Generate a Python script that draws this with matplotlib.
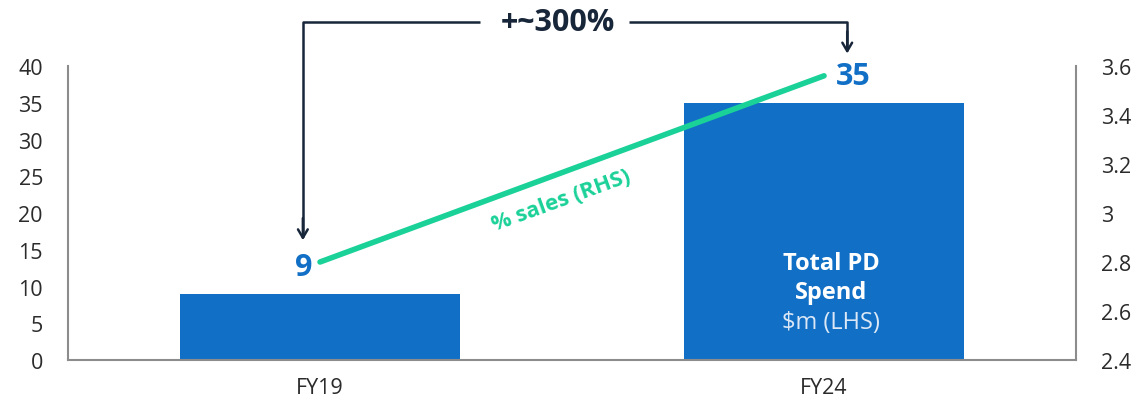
import matplotlib
matplotlib.use("Agg")
import matplotlib.pyplot as plt

plt.rcParams['font.family'] = ['Open Sans', 'DejaVu Sans']

# Data
categories = ["FY19", "FY24"]
pd_spend = [9, 35]            # Total PD spend, $m (LHS)
pct_sales = [2.8, 3.56]       # % of sales (RHS)
growth_label = "+~300%"

left_ticks = [0, 5, 10, 15, 20, 25, 30, 35, 40]
right_ticks = [2.4, 2.6, 2.8, 3.0, 3.2, 3.4, 3.6]
right_ticklabels = ["2.4", "2.6", "2.8", "3", "3.2", "3.4", "3.6"]

BAR = "#116fc6"
GREEN = "#1ad198"
NAVY = "#18263a"
SPINE = "#8c8c8c"
TICK = "#2b2b2b"

fig = plt.figure(figsize=(11.37, 4.02), dpi=100)
ax = fig.add_axes([0.0598, 0.102, 0.8866, 0.7313])
x = list(range(len(categories)))

ax.bar(x, pd_spend, width=0.556, color=BAR, zorder=2)
ax.set_xlim(-0.5, 1.5)
ax.set_ylim(0, 40)
ax.set_yticks(left_ticks)
ax.set_xticks(x)
ax.set_xticklabels(categories)
ax.tick_params(axis='both', length=0, labelsize=15.5, colors=TICK)
ax.tick_params(axis='y', pad=18)
ax.tick_params(axis='x', pad=12)
for s in ("top", "right"):
    ax.spines[s].set_visible(False)
for s in ("left", "bottom"):
    ax.spines[s].set_color(SPINE)
    ax.spines[s].set_linewidth(1.5)

ax2 = ax.twinx()
ax2.set_ylim(2.4, 3.6)
ax2.set_yticks(right_ticks)
ax2.set_yticklabels(right_ticklabels)
ax2.tick_params(axis='y', length=0, labelsize=15.5, colors=TICK, pad=18)
for s in ("top", "left", "bottom"):
    ax2.spines[s].set_visible(False)
ax2.spines["right"].set_color(SPINE)
ax2.spines["right"].set_linewidth(1.5)

ax2.plot(x, pct_sales, color=GREEN, lw=4.0, solid_capstyle="round", zorder=3)

# Series label set just below the line
t = 0.478
x_lab = x[0] + t * (x[1] - x[0])
y_lab = pct_sales[0] + t * (pct_sales[1] - pct_sales[0]) - 0.11
ax2.text(x_lab, y_lab, "% sales (RHS)", color=GREEN, fontsize=16,
         fontweight="bold", rotation=20, ha="center", va="center",
         rotation_mode="anchor")

# Value labels above the bars
offsets = [(-12, 19), (21, 19.5)]
for xi, v, off in zip(x, pd_spend, offsets):
    ax.annotate(str(v), xy=(xi, v), xytext=off, textcoords="offset points",
                ha="center", va="center", fontsize=22, fontweight="bold",
                color=BAR, zorder=4)

# Label inside the FY24 bar
for txt, dy, weight, col in [("Total PD", 70, "bold", "white"),
                             ("Spend", 49, "bold", "white"),
                             ("$m (LHS)", 27, "normal", "#dce8f6")]:
    ax.annotate(txt, xy=(x[1], 0), xytext=(5, dy),
                textcoords="offset points", ha="center", va="center",
                fontsize=17, fontweight=weight, color=col, zorder=4)

# Growth bracket from FY19 to FY24
xl = x[0] - 0.034
xr = x[1] + 0.046
y_top = 46.0
y_l = 16.3
y_r = 41.7
x_txt = 0.472
seg_l, seg_r = 0.317, 0.613
kw = dict(color=NAVY, lw=1.8, clip_on=False, solid_capstyle="butt")
ax.plot([xl, xl, seg_l], [y_l + 0.5, y_top, y_top], **kw)
ax.plot([seg_r, xr, xr], [y_top, y_top, y_r + 0.5], **kw)
for xa, ya in [(xl, y_l), (xr, y_r)]:
    ax.annotate("", xy=(xa, ya), xytext=(xa, ya + 3), annotation_clip=False,
                arrowprops=dict(arrowstyle="->,head_length=0.6,head_width=0.35",
                                color=NAVY, lw=1.8, shrinkA=0, shrinkB=0))
ax.text(x_txt, y_top, growth_label, ha="center", va="center", fontsize=22,
        fontweight="bold", color=NAVY, clip_on=False)

fig.savefig("out.png", dpi=100)
